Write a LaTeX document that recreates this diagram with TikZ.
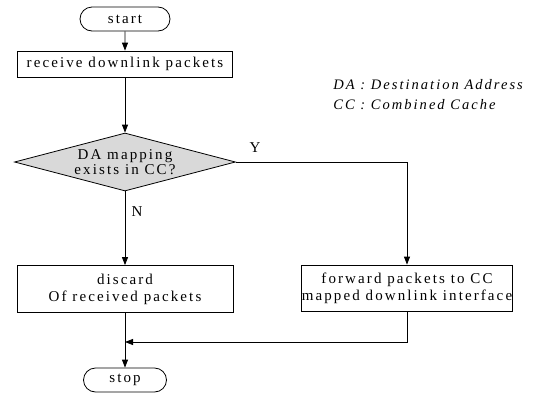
\documentclass[tikz,border=0pt]{standalone}
\usepackage{fontspec}
\setmainfont{Liberation Serif}[LetterSpace=14]
\usetikzlibrary{shapes.geometric,shapes.misc,arrows.meta}

\begin{document}
\begin{tikzpicture}[
		x=1pt,y=-1pt,
		line width=0.8pt,
		font=\fontsize{15}{20}\selectfont,
		>={Triangle[length=8pt,width=6pt]},
		term/.style={draw,rounded rectangle,minimum height=24pt,inner sep=0pt},
		proc/.style={draw,rectangle,inner sep=0pt,align=center},
		cond/.style={draw,diamond,aspect=3.8,fill=gray!30,inner sep=0pt,align=center,
			minimum width=221pt,minimum height=58pt,font=\fontsize{15}{15}\selectfont},
		note/.style={inner sep=0pt,align=left,font=\fontsize{14.5}{20}\selectfont\itshape}
	]
	\useasboundingbox (0,0) rectangle (557,394);
	\node[term,minimum width=90pt] (start) at (125,19) {start};
	\node[proc,minimum width=215pt,minimum height=26pt] (recv) at (125,64) {receive downlink packets};
	\node[cond] (check) at (125,162) {DA mapping\\exists in CC?};
	\node[proc,minimum width=216pt,minimum height=47pt,font=\fontsize{15}{17}\selectfont] (drop) at (125,289) {discard\\Of received packets};
	\node[proc,minimum width=205pt,minimum height=46pt,font=\fontsize{15}{17}\selectfont] (fwd) at (407,288) {forward packets to CC\\mapped downlink interface};
	\node[term,minimum width=83pt] (stop) at (125,380) {stop};
	\coordinate (join) at (125,342);
	\node (yes) at (255,148) {Y};
	\node (no) at (137,212) {N};
	\node[note,anchor=west] (legend) at (333,95) {DA : Destination Address\\CC : Combined Cache};

	\draw[->] (start) -- (recv);
	\draw[->] (recv) -- (check);
	\draw[->] (check) -- (drop);
	\draw[->] (check.east) -| (fwd.north);
	\draw[->] (drop) -- (stop);
	\draw[->] (fwd.south) |- (join);
\end{tikzpicture}
\end{document}
